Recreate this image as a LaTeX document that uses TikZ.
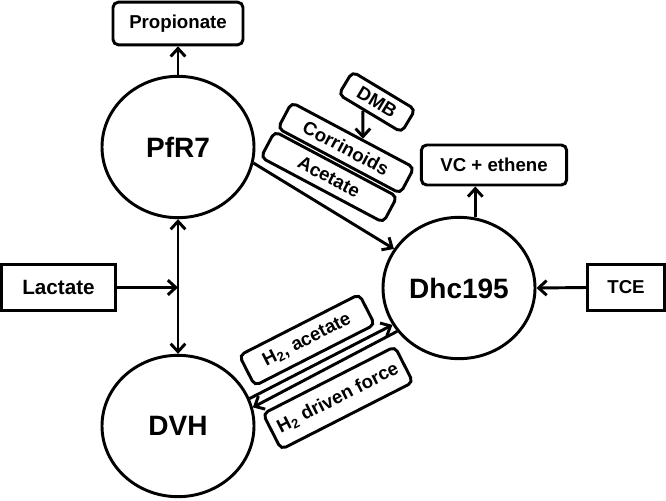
\documentclass[tikz,border=0pt]{standalone}
\usepackage{fontspec}
\setmainfont{Liberation Sans}
\usetikzlibrary{arrows.meta, shapes.geometric, calc}

\begin{document}
\begin{tikzpicture}[x = 0.75pt, y = -0.75pt, line width = 2.2pt,
  >={Straight Barb[length = 6pt, width = 11pt]},
  cell/.style = {draw, ellipse, minimum width = 114pt, minimum height = 106pt, inner sep = 0pt, font = \fontsize{21}{25}\selectfont\bfseries},
  tag/.style = {draw, rounded corners = 4pt, inner sep = 0pt, font = \fontsize{14}{17}\selectfont\bfseries},
  feed/.style = {draw, inner sep = 0pt, font = \fontsize{14}{17}\selectfont\bfseries}]
\useasboundingbox (0,0) rectangle (666,500);
% organisms
\node[cell] (pfr) at (178,147) {PfR7};
\node[cell] (dhc) at (459,288) {Dhc195};
\node[cell] (dvh) at (178,426) {DVH};
% substrates and products
\node[tag, minimum width = 97.5pt, minimum height = 32pt] (prop) at (178,23.5) {Propionate};
\node[tag, minimum width = 109pt, minimum height = 30pt] (vc) at (494,165) {VC + ethene};
\node[feed, minimum width = 85pt, minimum height = 34pt, font = \fontsize{15.5}{18}\selectfont\bfseries] (lac) at (58.5,287.5) {Lactate};
\node[feed, minimum width = 57.75pt, minimum height = 34pt] (tce) at (626,287.5) {TCE};
% exchanged compounds
\node[tag, rotate = -31, minimum width = 55pt, minimum height = 20pt] (dmb) at (377,102) {DMB};
\node[tag, rotate = -28, minimum width = 104pt, minimum height = 22pt] (corr) at (346,148) {Corrinoids};
\node[tag, rotate = -28, minimum width = 104pt, minimum height = 22pt] (acet) at (329,177) {Acetate};
\node[tag, rotate = 27, minimum width = 101pt, minimum height = 25.5pt] (hac) at (307,340) {H\textsubscript{2}, acetate};
\node[tag, rotate = 27, minimum width = 111pt, minimum height = 30pt] (hdf) at (338,398) {H\textsubscript{2} driven force};
% arrows
\draw[->] (pfr.north) -- (prop.south);
\draw[<->] (pfr.south) -- (dvh.north);
\draw[->] (lac.east) -- (lac.east -| pfr.south);
\draw[->] (pfr.-12) -- (dhc.149);
\draw[->] (dhc.77) -- (dhc.77 |- vc.south);
\draw[->] (tce.west) -- (dhc.east);
\draw[->] ($(dmb.south)!0.2!(dmb.south west)$) -- ($(corr.north)!0.15!(corr.north east)$);
\draw[->] (dvh.21) -- (dhc.209);
\draw[->] (dhc.215) -- (dvh.14);
\end{tikzpicture}
\end{document}
